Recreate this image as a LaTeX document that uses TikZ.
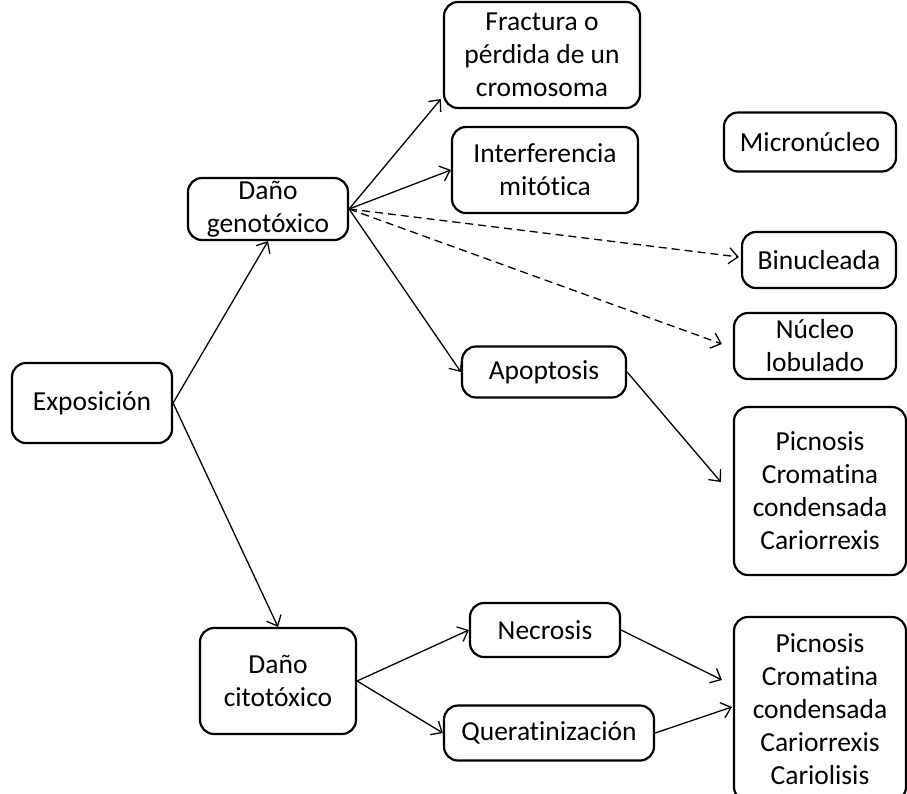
\documentclass[tikz,border=0pt]{standalone}
\usepackage{fontspec}
\setmainfont[Ligatures=NoCommon]{Carlito}
\usetikzlibrary{arrows.meta,calc}

\begin{document}
\begin{tikzpicture}[x=1pt,y=-1pt]
\path [use as bounding box] (0,0) rectangle (907,793);
\tikzstyle{caja} = [draw, rounded corners=14pt, line width=2.2pt, align=center, inner sep=0pt,
  font=\fontsize{27.5}{33}\selectfont]
\tikzstyle{flecha} = [line width=1.3pt, -{Straight Barb[length=9pt,width=16pt,line width=1.3pt]}]
\tikzstyle{punteada} = [flecha, dash pattern=on 8pt off 5pt]
% nodos
\node[caja, minimum width=160pt, minimum height=80pt] (expo) at (92,403) {Exposición};
\node[caja, minimum width=160pt, minimum height=62pt] (gen) at (268,209) {Daño\\genotóxico};
\node[caja, minimum width=196pt, minimum height=106pt] (frac) at (542,55) {Fractura o\\pérdida de un\\cromosoma};
\node[caja, minimum width=186pt, minimum height=86pt] (inter) at (545,170) {Interferencia\\mitótica};
\node[caja, minimum width=172pt, minimum height=59pt] (micro) at (810,142) {Micronúcleo};
\node[caja, minimum width=154pt, minimum height=56pt] (binu) at (819,260) {Binucleada};
\node[caja, minimum width=162pt, minimum height=66pt] (lobu) at (815,346) {Núcleo\\lobulado};
\node[caja, minimum width=164pt, minimum height=51pt] (apop) at (544,372) {Apoptosis};
\node[caja, minimum width=172pt, minimum height=168pt] (pic1) at (820,491) {Picnosis\\Cromatina\\condensada\\Cariorrexis};
\node[caja, minimum width=156pt, minimum height=106pt] (cito) at (278,681) {Daño\\citotóxico};
\node[caja, minimum width=150pt, minimum height=54pt] (necro) at (545,630) {Necrosis};
\node[caja, minimum width=210pt, minimum height=55pt] (quera) at (549,733) {Queratinización};
\node[caja, minimum width=172pt, minimum height=184pt] (pic2) at (820,709) {Picnosis\\Cromatina\\condensada\\Cariorrexis\\Cariolisis};
% flechas
\draw[flecha] (expo.east) -- (gen.south);
\draw[flecha] (expo.east) -- (cito.north);
\draw[flecha] (gen.east) -- ($(frac.west)+(-2,44)$);
\draw[flecha] (gen.east) -- (inter.west);
\draw[punteada] (gen.east) -- ($(binu.west)+(-2,-3)$);
\draw[punteada] (gen.east) -- ($(lobu.west)+(-11,-2)$);
\draw[flecha] (gen.east) -- (apop.west);
\draw[flecha] (apop.east) -- ($(pic1.west)+(-12,-9)$);
\draw[flecha] (cito.east) -- (necro.west);
\draw[flecha] (cito.east) -- (quera.west);
\draw[flecha] (necro.east) -- ($(pic2.west)+(-11,-29)$);
\draw[flecha] (quera.east) -- ($(pic2.west)+(-1,-2)$);
\end{tikzpicture}
\end{document}
